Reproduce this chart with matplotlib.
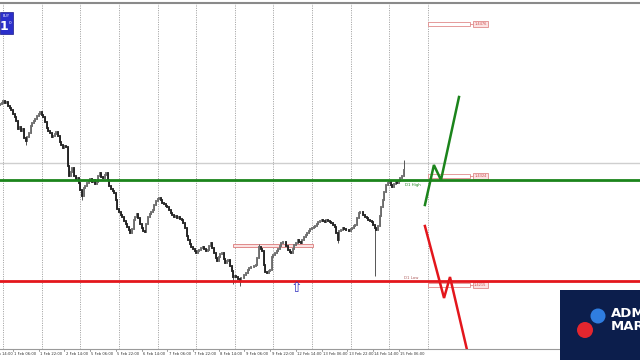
"""
plot.py — Graphique H1 (bougies) avec niveaux D1 et deux scénarios.
"""
import matplotlib
matplotlib.use("Agg")  # pas d'affichage
import matplotlib.pyplot as plt
from matplotlib.patches import Rectangle, Circle

PAPER = "#FFFFFF"
GRID = "#8E8E8E"
INK = "#333333"
BULL = "#6E6E6E"
BEAR = "#222222"
WICK = "#555555"
GREEN = "#1B841B"
RED = "#E3161C"
PINK_EDGE = "#E08A8A"
PINK_FILL = "#FBE3E3"
NAVY = "#0C1E4C"

# --------------------------------------------------------------------------
# Données (une bougie par heure, barre 0 = 1 Feb 00:00)
# --------------------------------------------------------------------------
FIRST_BAR = -2
OPEN0 = 1.4395
CLOSES = [
    1.4396, 1.4397, 1.4399, 1.4397, 1.4398, 1.4394, 1.4392, 1.4390, 1.4386, 1.4383, 1.4379, 1.4371,
    1.4373, 1.4369, 1.4371, 1.4362, 1.4359, 1.4363, 1.4367, 1.4374, 1.4377, 1.4379,
    1.4381, 1.4384, 1.4386, 1.4388, 1.4385, 1.4383, 1.4378, 1.4372, 1.4369, 1.4367,
    1.4363, 1.4364, 1.4366, 1.4368, 1.4364, 1.4358, 1.4355, 1.4352, 1.4354, 1.4353,
    1.4334, 1.4324, 1.4328, 1.4332, 1.4324, 1.4320, 1.4322, 1.4317, 1.4310, 1.4304,
    1.4312, 1.4314, 1.4317, 1.4319, 1.4321, 1.4318, 1.4320, 1.4316, 1.4318, 1.4324,
    1.4327, 1.4323, 1.4322, 1.4325, 1.4327, 1.4320, 1.4314, 1.4311, 1.4309, 1.4307,
    1.4300, 1.4291, 1.4288, 1.4285, 1.4283, 1.4279, 1.4276, 1.4273, 1.4270, 1.4267,
    1.4271, 1.4280, 1.4283, 1.4286, 1.4282, 1.4276, 1.4272, 1.4269, 1.4268, 1.4276,
    1.4283, 1.4286, 1.4288, 1.4290, 1.4295, 1.4299, 1.4301, 1.4302, 1.4300, 1.4297,
    1.4296, 1.4294, 1.4293, 1.4290, 1.4287, 1.4285, 1.4283, 1.4284, 1.4282, 1.4283,
    1.4281, 1.4280, 1.4277, 1.4272, 1.4264, 1.4260, 1.4256, 1.4253, 1.4251, 1.4249,
    1.4247, 1.4249, 1.4250, 1.4252, 1.4253, 1.4251, 1.4249, 1.4250, 1.4254, 1.4257,
    1.4252, 1.4247, 1.4242, 1.4239, 1.4243, 1.4246, 1.4247, 1.4241, 1.4237, 1.4239,
    1.4240, 1.4234, 1.4229, 1.4223, 1.4224, 1.4223, 1.4221, 1.4220, 1.4222, 1.4222,
    1.4225, 1.4227, 1.4230, 1.4232, 1.4233, 1.4233, 1.4234, 1.4235, 1.4242, 1.4253,
    1.4251, 1.4249, 1.4235, 1.4228, 1.4227, 1.4229, 1.4230, 1.4243, 1.4245, 1.4247,
    1.4249, 1.4251, 1.4254, 1.4257, 1.4258, 1.4258, 1.4254, 1.4250, 1.4248, 1.4247,
    1.4251, 1.4255, 1.4257, 1.4260, 1.4258, 1.4257, 1.4260, 1.4263, 1.4265, 1.4267,
    1.4269, 1.4271, 1.4272, 1.4273, 1.4274, 1.4276, 1.4278, 1.4279, 1.4280, 1.4279,
    1.4278, 1.4280, 1.4279, 1.4278, 1.4277, 1.4275, 1.4273, 1.4267, 1.4260, 1.4269,
    1.4270, 1.4272, 1.4271, 1.4270, 1.4270, 1.4269, 1.4271, 1.4272, 1.4274, 1.4275,
    1.4282, 1.4287, 1.4288, 1.4288, 1.4285, 1.4283, 1.4282, 1.4280, 1.4279, 1.4278,
    1.4275, 1.4272, 1.4270, 1.4274, 1.4284, 1.4293, 1.4300, 1.4308, 1.4315, 1.4317,
    1.4318, 1.4315, 1.4313, 1.4316, 1.4318, 1.4317, 1.4319, 1.4322, 1.4324, 1.4330,
]
# Mèches marquantes (barre -> extrême)
WICKS = {14: 1.4355, 49: 1.4300, 143: 1.4216, 147: 1.4214, 159: 1.4256,
         208: 1.4257, 231: 1.4224, 249: 1.4340}

DAY_STARTS = [0, 24, 48, 72, 96, 120, 144, 168, 192, 216, 240, 264]
TICK_BARS = [-10, 6, 22, 38, 54, 70, 86, 102, 118, 134, 150, 166, 182, 198, 214, 230, 246]
TICK_LABELS = ["31 Jan 14:00", "1 Feb 06:00", "1 Feb 22:00", "2 Feb 14:00",
               "5 Feb 06:00", "5 Feb 22:00", "6 Feb 14:00", "7 Feb 06:00",
               "7 Feb 22:00", "8 Feb 14:00", "9 Feb 06:00", "9 Feb 22:00",
               "12 Feb 14:00", "13 Feb 06:00", "13 Feb 22:00", "14 Feb 14:00",
               "15 Feb 06:00"]

D1_HIGH = 1.4320
D1_LOW = 1.4219
GREY_LEVEL = 1.4337
ZONE_BARS = (142.8, 192.6)
ZONE_PRICES = (1.4253, 1.4256)
LABEL_PRICES = [1.4476, 1.4324, 1.4215]
LABEL_TEXTS = ["1.4476", "1.4324", "1.4215"]
LABEL_BARS = (264, 290, 292, 301.4)
ARROW_AT = (182, 1.4212)

GREEN_PATH_X = [262.2, 267.8, 272.2, 283.4]
GREEN_PATH_Y = [1.4295, 1.4335, 1.4320, 1.4403]
RED_PATH_X = [262.2, 274.1, 277.8, 288.4]
RED_PATH_Y = [1.4274, 1.4202, 1.4223, 1.4150]

X_RANGE = (-2.05, 395.97)
Y_RANGE = (1.4151, 1.4497)


def draw_candles(ax):
    opens = [OPEN0] + CLOSES[:-1]
    groups = {BULL: ([], [], []), BEAR: ([], [], [])}
    wx, wlo, whi = [], [], []
    for k, (o, c) in enumerate(zip(opens, CLOSES)):
        bar = FIRST_BAR + k
        lo, hi = min(o, c), max(o, c)
        ext = WICKS.get(bar)
        wl, wh = lo, hi
        if ext is not None:
            wl, wh = min(wl, ext), max(wh, ext)
        wx.append(bar); wlo.append(wl); whi.append(wh)
        xs, ls, hs = groups[BULL if c >= o else BEAR]
        xs.append(bar); ls.append(lo); hs.append(hi)
    ax.vlines(wx, wlo, whi, color=WICK, linewidth=0.7, zorder=3)
    for color, (xs, ls, hs) in groups.items():
        ax.vlines(xs, ls, hs, color=color, linewidth=1.35, zorder=4,
                  capstyle="projecting")


def draw_levels(ax):
    ax.axhline(GREY_LEVEL, color="#CFCFCF", linewidth=1.0, zorder=1)
    ax.axhline(D1_HIGH, color=GREEN, linewidth=2.0, zorder=5)
    ax.axhline(D1_LOW, color=RED, linewidth=2.0, zorder=5)
    ax.text(250, D1_HIGH - 0.0003, "D1 High", color=GREEN, fontsize=2.8,
            ha="left", va="top", zorder=6)
    ax.text(249.5, D1_LOW + 0.0001, "D1 Low", color="#B06060", fontsize=2.8,
            ha="left", va="bottom", zorder=6)

    # Zone rose
    ax.add_patch(Rectangle((ZONE_BARS[0], ZONE_PRICES[0]), ZONE_BARS[1] - ZONE_BARS[0],
                           ZONE_PRICES[1] - ZONE_PRICES[0], facecolor=PINK_FILL,
                           edgecolor=PINK_EDGE, linewidth=0.7, zorder=2))

    # Étiquettes de prix à droite
    b0, b1, t0, t1 = LABEL_BARS
    for price, txt in zip(LABEL_PRICES, LABEL_TEXTS):
        ax.add_patch(Rectangle((b0, price - 0.0002), b1 - b0, 0.0004,
                               facecolor="white", edgecolor=PINK_EDGE,
                               linewidth=0.6, zorder=4))
        ax.plot([b1, t0], [price, price], color=PINK_EDGE, linewidth=0.6, zorder=4)
        ax.add_patch(Rectangle((t0, price - 0.0003), t1 - t0, 0.0006,
                               facecolor=PINK_FILL, edgecolor=PINK_EDGE,
                               linewidth=0.6, zorder=4))
        ax.text((t0 + t1) / 2, price, txt, color="#D05050", fontsize=2.6,
                ha="center", va="center", zorder=6)

    ax.text(ARROW_AT[0], ARROW_AT[1], "\u21e7", color="#3535C0", fontsize=10,
            ha="center", va="center", zorder=6)


def draw_scenarios(ax):
    ax.plot(GREEN_PATH_X, GREEN_PATH_Y, color=GREEN, linewidth=1.8, zorder=6,
            solid_joinstyle="miter")
    ax.plot(RED_PATH_X, RED_PATH_Y, color=RED, linewidth=1.8, zorder=6,
            solid_joinstyle="miter")


def draw_overlay(fig):
    ov = fig.add_axes([0, 0, 1, 1], zorder=10)
    ov.set_xlim(0, 640)
    ov.set_ylim(360, 0)
    ov.axis("off")
    ov.patch.set_alpha(0)

    # Panneau BUY (coupé à gauche)
    ov.add_patch(Rectangle((0, 12), 13, 22, facecolor="#2B2FCB", edgecolor="#1A1A8A",
                           linewidth=0.5))
    ov.text(6, 16, "BUY", color="white", fontsize=2.5, ha="center", va="center")
    ov.text(4, 27, "1", color="white", fontsize=9, fontweight="bold",
            ha="center", va="center")
    ov.text(10, 23, "0", color="white", fontsize=3, ha="center", va="center")

    # Logo en bas à droite (coupé par le bord, comme la capture)
    ov.add_patch(Rectangle((560, 290), 80, 70, facecolor=NAVY, edgecolor="none"))
    ov.add_patch(Circle((598, 316), 7.5, facecolor="#2F7DE0", edgecolor="none"))
    ov.add_patch(Circle((585, 330), 8, facecolor="#E3262E", edgecolor="none"))
    ov.text(611, 313.5, "ADMIRAL", color="white", fontsize=9.5, fontweight="bold",
            ha="left", va="center")
    ov.text(611, 326.5, "MARKETS", color="white", fontsize=9.5, fontweight="bold",
            ha="left", va="center")


fig = plt.figure(figsize=(6.4, 3.6), dpi=100)
fig.patch.set_facecolor(PAPER)
ax = fig.add_axes([0, 1 - 349 / 360, 1, 346 / 360])
ax.set_facecolor(PAPER)
ax.set_xlim(*X_RANGE)
ax.set_ylim(*Y_RANGE)
ax.set_xticks([])
ax.set_yticks([])
for side in ("left", "right"):
    ax.spines[side].set_visible(False)
ax.spines["top"].set_color("#8A8A8A")
ax.spines["top"].set_linewidth(1.5)
ax.spines["bottom"].set_color("#9A9A9A")
ax.spines["bottom"].set_linewidth(0.8)

for d in DAY_STARTS:
    ax.axvline(d, color=GRID, linewidth=0.6, linestyle=(0, (1.2, 1.6)), zorder=1)

draw_candles(ax)
draw_levels(ax)
draw_scenarios(ax)

xt = ax.get_xaxis_transform()
for bar, lab in zip(TICK_BARS, TICK_LABELS):
    ax.plot([bar, bar], [0, -0.006], transform=xt, color="#777777", linewidth=0.5,
            clip_on=False)
    ax.text(bar + 0.8, -0.015, lab, transform=xt, color=INK, fontsize=2.7,
            ha="left", va="center", clip_on=False)

draw_overlay(fig)

fig.savefig("out.png", dpi=100, facecolor=PAPER)
plt.close(fig)
